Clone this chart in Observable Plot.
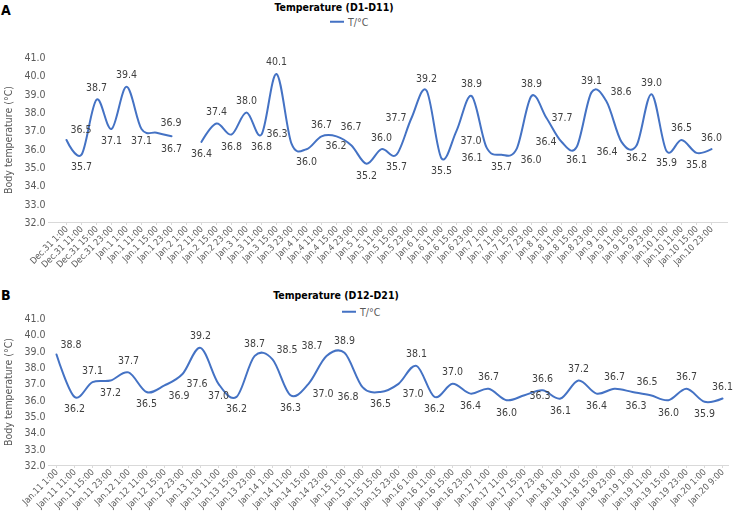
<!DOCTYPE html>
<html><head><meta charset="utf-8">
<script src="https://cdn.jsdelivr.net/npm/d3@7"></script>
<script src="https://cdn.jsdelivr.net/npm/@observablehq/plot@0.6"></script>
<style>
body{margin:0;background:#fff;font-family:"DejaVu Sans Condensed","DejaVu Sans",sans-serif;}
#wrap{position:relative;width:734px;height:523px;overflow:hidden;background:#fff;}
.panel{position:absolute;left:0;width:734px;}
.panel svg{overflow:visible;}
.panel svg text{filter:grayscale(1);}
.letter{position:absolute;left:1px;font-weight:bold;font-size:14px;color:#000;line-height:1;}
.title{position:absolute;transform:translate(-50%,-50%);font-weight:bold;font-size:10.5px;color:#000;white-space:nowrap;line-height:1;}
.legend{position:absolute;transform:translateY(-50%);display:flex;align-items:center;gap:4px;font-size:10.5px;color:#595959;line-height:1;}
.legend .sw{width:14px;height:2px;background:#4472C4;}
</style></head>
<body><div id="wrap"></div>
<script>
const catsA = ["Dec.31 1:00","Dec.31 11:00","Dec.31 15:00","Dec.31 23:00","Jan.1 1:00","Jan.1 11:00","Jan.1 15:00","Jan.1 23:00","Jan.2 1:00","Jan.2 11:00","Jan.2 15:00","Jan.2 23:00","Jan.3 1:00","Jan.3 11:00","Jan.3 15:00","Jan.3 23:00","Jan.4 1:00","Jan.4 11:00","Jan.4 15:00","Jan.4 23:00","Jan.5 1:00","Jan.5 11:00","Jan.5 15:00","Jan.5 23:00","Jan.6 1:00","Jan.6 11:00","Jan.6 15:00","Jan.6 23:00","Jan.7 1:00","Jan.7 11:00","Jan.7 15:00","Jan.7 23:00","Jan.8 1:00","Jan.8 11:00","Jan.8 15:00","Jan.8 23:00","Jan.9 1:00","Jan.9 11:00","Jan.9 15:00","Jan.9 23:00","Jan.10 1:00","Jan.10 11:00","Jan.10 15:00","Jan.10 23:00"];
const valsA = [36.5,35.7,38.7,37.1,39.4,37.1,36.9,36.7,null,36.4,37.4,36.8,38.0,36.8,40.1,36.3,36.0,36.7,36.7,36.2,35.2,36.0,35.7,37.7,39.2,35.5,37.0,38.9,36.1,35.7,36.0,38.9,37.7,36.4,36.1,39.1,38.6,36.4,36.2,39.0,35.9,36.5,35.8,36.0];
const catsB = ["Jan.11 1:00","Jan.11 11:00","Jan.11 15:00","Jan.11 23:00","Jan.12 1:00","Jan.12 11:00","Jan.12 15:00","Jan.12 23:00","Jan.13 1:00","Jan.13 11:00","Jan.13 15:00","Jan.13 23:00","Jan.14 1:00","Jan.14 11:00","Jan.14 15:00","Jan.14 23:00","Jan.15 1:00","Jan.15 11:00","Jan.15 15:00","Jan.15 23:00","Jan.16 1:00","Jan.16 11:00","Jan.16 15:00","Jan.16 23:00","Jan.17 1:00","Jan.17 11:00","Jan.17 15:00","Jan.17 23:00","Jan.18 1:00","Jan.18 11:00","Jan.18 15:00","Jan.18 23:00","Jan.19 1:00","Jan.19 11:00","Jan.19 15:00","Jan.19 23:00","Jan.20 1:00","Jan.20 9:00"];
const valsB = [38.8,36.2,37.1,37.2,37.7,36.5,36.9,37.6,39.2,37.0,36.2,38.7,38.5,36.3,37.0,38.7,38.9,36.8,36.5,37.0,38.1,36.2,37.0,36.4,36.7,36.0,36.3,36.6,36.1,37.2,36.4,36.7,36.5,36.3,36.0,36.7,35.9,36.1];
const yTicks = [32,33,34,35,36,37,38,39,40,41];
const titleA = "Temperature (D1-D11)", titleB = "Temperature (D12-D21)";
const seriesName = "T/°C";
const yLabel = "Body temperature (°C)";

const BLUE = "#4472C4";
const FONT = '"DejaVu Sans Condensed","DejaVu Sans",sans-serif';
const LBL = 10.5;
const fmt = d3.format(".1f");

// candidate label placements (relative to the point)
const CAND = {
  top:{dx:0,dy:-12,a:"middle"}, bottom:{dx:0,dy:12,a:"middle"},
  right:{dx:5,dy:0,a:"start"}, left:{dx:-5,dy:0,a:"end"},
  topright:{dx:4,dy:-10,a:"start"}, topleft:{dx:-4,dy:-10,a:"end"},
  bottomright:{dx:4,dy:10,a:"start"}, bottomleft:{dx:-4,dy:10,a:"end"}
};
function kind(vals,i){
  const v=vals[i], p=vals[i-1], n=vals[i+1], hp=p!=null, hn=n!=null;
  if ((!hp||v>=p)&&(!hn||v>=n)) return "max";
  if ((!hp||v<=p)&&(!hn||v<=n)) return "min";
  return "mid";
}
function prefs(vals,i){
  const k=kind(vals,i);
  if (k==="max") return ["top","topleft","topright","right","left","bottomright","bottomleft","bottom"];
  if (k==="min") return ["bottom","bottomleft","bottomright","left","right","topleft","topright","top"];
  const v=vals[i], p=vals[i-1], n=vals[i+1];
  const diff=v-(p+n)/2, slope=n-p;
  if (Math.abs(diff)<0.3 && Math.abs(slope)>=2)
    return slope>0 ? ["left","bottomright","right","topleft","top","bottom","topright","bottomleft"]
                   : ["right","bottomleft","left","topright","top","bottom","topleft","bottomright"];
  return diff>=0 ? ["top","topright","topleft","right","left","bottomright","bottomleft","bottom"]
                 : ["bottom","bottomright","bottomleft","right","left","topright","topleft","top"];
}
const ctx = document.createElement("canvas").getContext("2d");
ctx.font = LBL+"px "+FONT;

function layoutLabels(cats, vals, cfg){
  const xs = d3.scalePoint().domain(cats).range([48, 734-cfg.mr]).padding(0.25);
  const ys = d3.scaleLinear().domain([32,41]).range([cfg.height-cfg.mb, cfg.mt]);
  const pts = cats.map((c,i)=>[xs(c), vals[i]==null?null:ys(vals[i])]);
  const ns="http://www.w3.org/2000/svg";
  const s=document.createElementNS(ns,"svg"), pe=document.createElementNS(ns,"path");
  pe.setAttribute("d", d3.line().defined(d=>d[1]!=null).curve(d3.curveCardinal)(pts));
  s.appendChild(pe); document.body.appendChild(s);
  const len=pe.getTotalLength(), samp=[];
  for(let l=0;l<=len;l+=1){const q=pe.getPointAtLength(l); samp.push([q.x,q.y]);}
  s.remove();
  // keep clear of the y tick labels
  const boxes = yTicks.map(t=>[22, ys(t)-5, 46, ys(t)+5]);
  const out=[];
  // peaks and troughs first, then points on slopes
  const idx = d3.range(vals.length).filter(i=>vals[i]!=null);
  const order = idx.filter(i=>kind(vals,i)!=="mid").concat(idx.filter(i=>kind(vals,i)==="mid"));
  order.forEach(i=>{
    const v=vals[i];
    const [x,y]=pts[i], w=ctx.measureText(fmt(v)).width, pr=prefs(vals,i);
    let best=null, bestS=Infinity;
    pr.forEach((k,r)=>{
      const c=CAND[k], cx=x+c.dx, cy=y+c.dy;
      const x0=c.a==="middle"?cx-w/2:c.a==="start"?cx:cx-w;
      const b=[x0-1,cy-5,x0+w+1,cy+5], lb=[x0+0.5,cy-4,x0+w-0.5,cy+4];
      let sc=r*1.5;
      boxes.forEach(o=>{ if(b[0]<o[2]&&b[2]>o[0]&&b[1]<o[3]&&b[3]>o[1]) sc+=100; });
      samp.forEach(q=>{ if(q[0]>lb[0]&&q[0]<lb[2]&&q[1]>lb[1]&&q[1]<lb[3]) sc+=1; });
      if(b[2]>736) sc+=50;
      if(sc<bestS){bestS=sc;best={k,b};}
    });
    boxes.push(best.b);
    out.push({t:cats[i], v, k:best.k});
  });
  return out;
}

function makePanel(cats, vals, cfg){
  const data = cats.map((c,i)=>({t:c, v:vals[i]}));
  const labels = layoutLabels(cats, vals, cfg);
  const textMarks = Object.entries(CAND).map(([k,c]) =>
    Plot.text(labels.filter(d=>d.k===k),{x:"t", y:"v", text:d=>fmt(d.v), dx:c.dx, dy:c.dy, textAnchor:c.a, fill:"#404040", fontSize:LBL}));
  return Plot.plot({
    width:734, height:cfg.height,
    marginTop:cfg.mt, marginBottom:cfg.mb, marginLeft:48, marginRight:cfg.mr,
    style:{fontFamily:FONT, background:"transparent"},
    x:{type:"point", domain:cats, padding:0.25},
    y:{domain:[32,41]},
    marks:[
      Plot.ruleY([32],{stroke:"#d9d9d9"}),
      Plot.axisY({ticks:yTicks, tickFormat:fmt, tickSize:0, tickPadding:3, fill:"#595959", fontSize:10.5, label:null}),
      Plot.axisX({tickRotate:-45, tickSize:3, tickPadding:2, stroke:"#d9d9d9", fill:"#595959", fontSize:9, label:null}),
      Plot.text([yLabel],{frameAnchor:"left", textAnchor:"middle", dx:-40, rotate:-90, fill:"#595959", fontSize:10.5}),
      Plot.line(data,{x:"t", y:"v", stroke:BLUE, strokeWidth:2, curve:"cardinal"}),
      ...textMarks
    ]
  });
}

const wrap = document.getElementById("wrap");
function addPanel(top, chart){
  const d = document.createElement("div"); d.className="panel"; d.style.top = top+"px";
  d.appendChild(chart); wrap.appendChild(d);
}
function addText(cls, html, left, top){
  const d = document.createElement("div"); d.className = cls; d.innerHTML = html;
  d.style.left = left+"px"; d.style.top = top+"px"; wrap.appendChild(d); return d;
}

addPanel(0, makePanel(catsA, valsA, {height:270, mt:57, mb:48, mr:6}));
addPanel(270, makePanel(catsB, valsB, {height:253, mt:48, mb:58, mr:5}));

addText("letter","A",1,3);
addText("title",titleA,334,7);
addText("legend",'<span class="sw"></span><span>'+seriesName+'</span>',330,22);
addText("letter","B",1,288);
addText("title",titleB,336,295);
addText("legend",'<span class="sw"></span><span>'+seriesName+'</span>',342,312);
</script>
</body></html>
